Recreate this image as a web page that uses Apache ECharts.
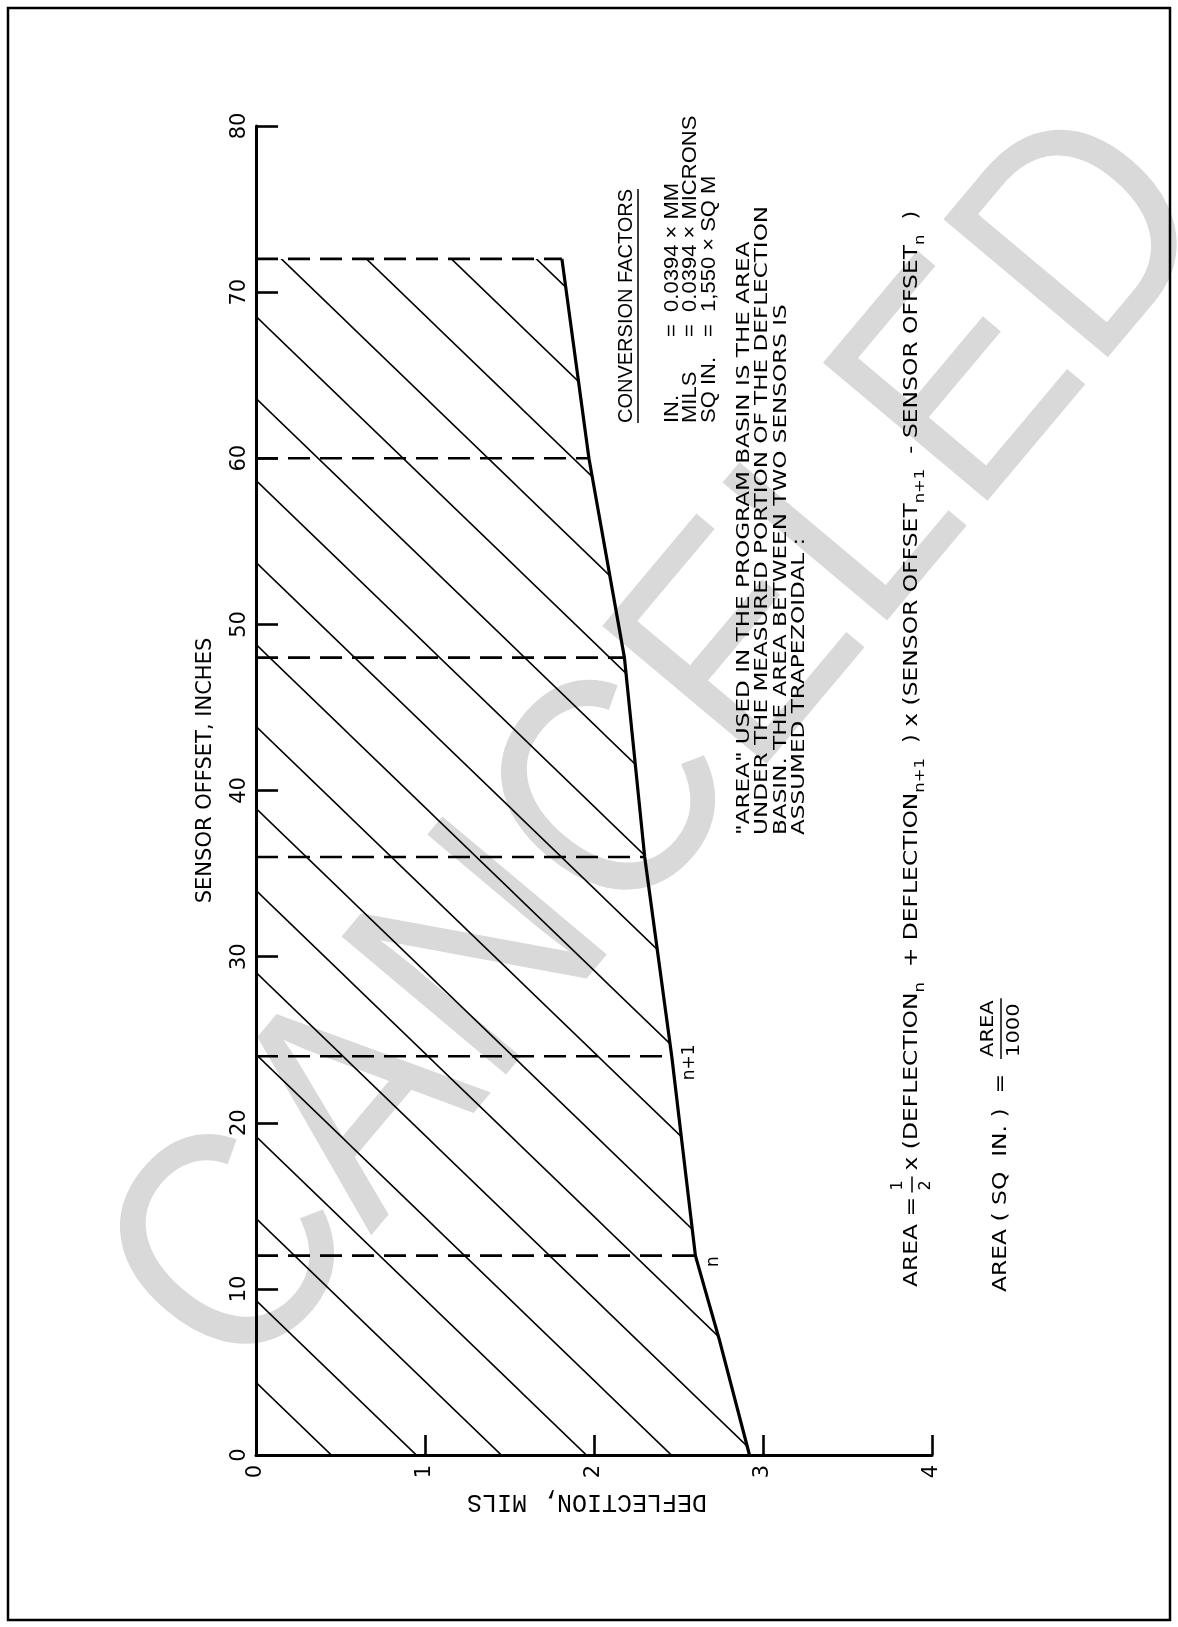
<!DOCTYPE html>
<html>
<head>
<meta charset="utf-8">
<script src="https://cdn.jsdelivr.net/npm/echarts@6/dist/echarts.min.js"></script>
<style>
  html, body { margin: 0; padding: 0; background: #fff; }
  #chart { width: 1178px; height: 1627px; }
</style>
</head>
<body>
<div id="chart"></div>
<script>
// Sensor offsets (inches) at which the basin outline changes direction
const sensorOffsets = [0, 7, 12, 24, 36, 48, 60, 72];
// Deflection (mils) of the basin at each of those offsets
const deflections = [2.92, 2.74, 2.60, 2.46, 2.30, 2.18, 1.97, 1.81];
// Sensor positions marked with dashed lines
const sensorStations = [12, 24, 36, 48, 60, 72];
// Axis tick values
const offsetTicks = [0, 10, 20, 30, 40, 50, 60, 70, 80];
const deflectionTicks = [0, 1, 2, 3, 4];
// Labels for the two sensors used in the trapezoid example
const sensorNames = [{ at: 12, text: 'n' }, { at: 24, text: 'n+1' }];

const LEROY = "'DejaVu Sans', sans-serif";
const MONO = "'Liberation Mono', 'DejaVu Sans Mono', monospace";
const HELV = "'Liberation Sans', Arial, sans-serif";

function deflectionAt(offset) {
  return deflections[sensorOffsets.indexOf(offset)];
}

// diagonal hatch tile; lines repeat every 85 px horizontally
function makeHatch() {
  const W = 85, H = 82, x0 = 13;
  const c = document.createElement('canvas');
  c.width = W; c.height = H;
  const g = c.getContext('2d');
  g.strokeStyle = '#000';
  g.lineWidth = 1.6;
  for (let k = -2; k <= 1; k++) {
    g.beginPath();
    g.moveTo(x0 + k * W - W * 0.2, -H * 0.2);
    g.lineTo(x0 + k * W + W * 1.2, H * 1.2);
    g.stroke();
  }
  return c;
}

const measureCtx = document.createElement('canvas').getContext('2d');
function textWidth(str, size, family) {
  measureCtx.font = size + 'px ' + family;
  return measureCtx.measureText(str).width;
}

const chart = echarts.init(document.getElementById('chart'), null, { renderer: 'canvas', width: 1178, height: 1627 });

const series = [];

// hatched basin area between the zero-deflection axis and the outline
series.push({
  type: 'custom',
  coordinateSystem: 'cartesian2d',
  data: [[0, 0]],
  silent: true,
  z: 1,
  clip: false,
  renderItem: function (params, api) {
    const pts = [api.coord([0, sensorOffsets[0]])];
    sensorOffsets.forEach(function (o, i) { pts.push(api.coord([deflections[i], o])); });
    pts.push(api.coord([0, sensorOffsets[sensorOffsets.length - 1]]));
    return {
      type: 'polygon',
      shape: { points: pts },
      style: { fill: { image: makeHatch(), repeat: 'repeat' }, stroke: null }
    };
  }
});

// dashed sensor lines
sensorStations.forEach(function (s) {
  series.push({
    type: 'line',
    data: [[0, s], [deflectionAt(s), s]],
    symbol: 'none',
    silent: true,
    z: 3,
    lineStyle: { color: '#000', width: 2.6, type: [22, 10] }
  });
});

// basin outline
series.push({
  type: 'line',
  data: sensorOffsets.map(function (o, i) { return [deflections[i], o]; }),
  symbol: 'none',
  silent: true,
  z: 5,
  lineStyle: { color: '#000', width: 3.2 }
});

const axisText = { color: '#000', fontFamily: LEROY, fontSize: 21 };

const option = {
  backgroundColor: '#fff',
  animation: false,
  grid: { left: 256, right: 246, top: 126, bottom: 172, containLabel: false, outerBoundsMode: 'none' },
  xAxis: {
    type: 'value', min: 0, max: 4, interval: 1,
    axisLine: { lineStyle: { color: '#000', width: 3 } },
    axisTick: { inside: true, length: 20, lineStyle: { color: '#000', width: 2.6 }, customValues: deflectionTicks },
    splitLine: { show: false },
    axisLabel: Object.assign({ rotate: 90, margin: 10, customValues: deflectionTicks }, axisText),
    name: 'DEFLECTION, MILS',
    nameLocation: 'middle',
    nameRotate: 180,
    nameGap: 34,
    nameTextStyle: { color: '#000', fontFamily: MONO, fontSize: 25, padding: [0, 0, 0, 14] }
  },
  yAxis: {
    type: 'value', min: 0, max: 80, interval: 10,
    axisLine: { lineStyle: { color: '#000', width: 3 } },
    axisTick: { inside: true, length: 22, lineStyle: { color: '#000', width: 2.6 }, customValues: offsetTicks },
    splitLine: { show: false },
    axisLabel: Object.assign({ rotate: 90, margin: 6, customValues: offsetTicks }, axisText),
    name: 'SENSOR OFFSET, INCHES',
    nameLocation: 'middle',
    nameRotate: 90,
    nameGap: 40,
    nameTextStyle: { color: '#000', fontFamily: LEROY, fontSize: 21, padding: [0, 0, 0, 40] }
  },
  series: series
};

chart.setOption(option);

// ---- annotations ----
const R = Math.PI / 2;
const graphics = [];

// page frame
graphics.push({
  type: 'rect', z: 0,
  shape: { x: 8, y: 8, width: 1162, height: 1612 },
  style: { fill: null, stroke: '#000', lineWidth: 2.5 }
});

// watermark
graphics.push({
  type: 'text', z: -10, silent: true,
  x: 666, y: 750, rotation: 50 * Math.PI / 180, scaleX: 0.9,
  style: {
    text: 'CANCELED', fill: '#d9d9d9',
    font: '312px ' + HELV, align: 'center', verticalAlign: 'middle'
  }
});

// sensor names beside the outline
sensorNames.forEach(function (s) {
  const p = chart.convertToPixel({ gridIndex: 0 }, [deflectionAt(s.at), s.at]);
  graphics.push({
    type: 'text', z: 10, x: p[0] + 18, y: p[1] + 6, rotation: R,
    style: { text: s.text, fill: '#000', font: '17px ' + LEROY, align: 'center', verticalAlign: 'middle' }
  });
});

// notes drawn in a rotated group: local x runs up the page, local y runs to the right
const notes = [];
function note(lx, ly, text, size, family, extra, sx) {
  notes.push({
    type: 'text', x: lx, y: ly, scaleX: sx || 1,
    style: Object.assign({ text: text, fill: '#000', font: size + 'px ' + family, align: 'left', verticalAlign: 'middle' }, extra || {})
  });
}

// conversion factors
const cfTitle = 'CONVERSION FACTORS';
note(1204, 626, cfTitle, 20, HELV);
notes.push({
  type: 'line', x: 0, y: 0,
  shape: { x1: 1204, y1: 638, x2: 1204 + textWidth(cfTitle, 20, HELV), y2: 638 },
  style: { stroke: '#000', lineWidth: 1.5 }
});
note(1204, 672, 'IN.', 20, HELV, null, 1.1);
note(1290, 672, '=  0.0394 \u00d7 MM', 20, HELV, null, 1.1);
note(1204, 690, 'MILS', 20, HELV, null, 1.1);
note(1290, 690, '=  0.0394 \u00d7 MICRONS', 20, HELV, null, 1.1);
note(1204, 709, 'SQ IN.', 20, HELV, null, 1.1);
note(1290, 709, '=  1,550 \u00d7 SQ M', 20, HELV, null, 1.1);

// definition paragraph
const para = [
  '"AREA" USED IN THE PROGRAM BASIN IS THE AREA',
  'UNDER THE MEASURED PORTION OF THE DEFLECTION',
  'BASIN. THE AREA BETWEEN TWO SENSORS IS',
  'ASSUMED TRAPEZOIDAL :'
];
const pSize = 17.5, pSx = 1.32;
para.forEach(function (t, i) { note(792, 744 + i * 18.5, t, pSize, LEROY, null, pSx); });

// trapezoid formula
const fSize = 20;
const fsx = 1.17;
const fx = 340, fy = 912;
const lead = 'AREA = ';
const leadW = textWidth(lead, fSize, LEROY) * fsx;
note(fx, fy, lead, fSize, LEROY, null, fsx);
const fracX = fx + leadW + 4;
note(fracX - 5, fy - 14, '1', 16, LEROY);
note(fracX - 5, fy + 14, '2', 16, LEROY);
notes.push({ type: 'line', shape: { x1: fracX - 7, y1: fy, x2: fracX + 9, y2: fy }, style: { stroke: '#000', lineWidth: 1.5 } });
const sub = { fontSize: 14, fontFamily: LEROY, verticalAlign: 'bottom', lineHeight: 14 };
note(fracX + 15, fy,
  '{m|x (DEFLECTION}{s|n}{m|  + DEFLECTION}{s|n+1}{m|  ) x (SENSOR OFFSET}{s|n+1}{m|  - SENSOR OFFSET}{s|n}{m|  )}',
  fSize, LEROY,
  { rich: { m: { fontSize: fSize, fontFamily: LEROY, lineHeight: 30 }, s: sub } }, fsx);

// area in square inches
const ay = 1001;
const lead2 = 'AREA ( SQ  IN. )  =  ';
note(335, ay, lead2, fSize, LEROY, null, fsx);
const f2x = 335 + textWidth(lead2, fSize, LEROY) * fsx + 2;
const numW = textWidth('AREA', 18, LEROY) * fsx;
note(f2x, ay - 13, 'AREA', 18, LEROY, null, fsx);
note(f2x, ay + 13, '1000', 18, LEROY, null, fsx);
notes.push({ type: 'line', shape: { x1: f2x - 2, y1: ay, x2: f2x + numW + 2, y2: ay }, style: { stroke: '#000', lineWidth: 1.5 } });

graphics.push({ type: 'group', x: 0, y: 1627, rotation: R, z: 10, children: notes });

chart.setOption({ graphic: graphics });
</script>
</body>
</html>
